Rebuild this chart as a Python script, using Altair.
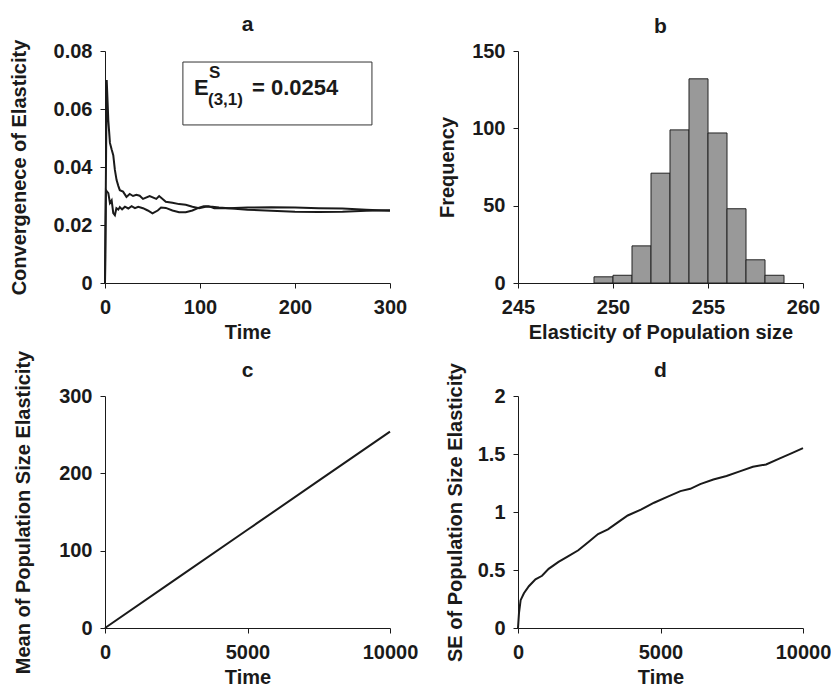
import altair as alt
import pandas as pd

FONT = "Liberation Sans"
INK = "#1a1a1a"

# ---------------- Panel a: convergence of elasticity ----------------
a1_t = [0, 1.8, 3.5, 5.2, 7, 8.7, 10.4, 12.2, 14, 15.6, 19, 22.6, 26, 29.5, 33, 36.5,
        40, 47, 54, 57, 64, 71, 78, 85, 92, 99, 106, 113, 120, 130, 150, 175, 200,
        225, 250, 275, 300]
a1_v = [0, 0.0700, 0.0560, 0.0483, 0.0460, 0.0441, 0.0390, 0.0355, 0.0335, 0.0320,
        0.0315, 0.0297, 0.0307, 0.0300, 0.0304, 0.0301, 0.0290, 0.0300, 0.0290,
        0.0300, 0.0280, 0.0277, 0.0272, 0.0270, 0.0263, 0.0258, 0.0263, 0.0263,
        0.0260, 0.0258, 0.0260, 0.0261, 0.0260, 0.0258, 0.0257, 0.0253, 0.0249]
a2_t = [0, 1, 3.5, 5.2, 7, 8.7, 10.4, 12, 14, 15.6, 18, 21, 24.5, 28, 31.5, 35, 40,
        45, 50, 55.5, 59, 64, 71, 78, 85, 92, 99, 104, 109, 115, 130, 150, 175, 200,
        225, 250, 275, 300]
a2_v = [0, 0.0320, 0.0310, 0.0276, 0.0285, 0.0241, 0.0234, 0.0258, 0.0253, 0.0262,
        0.0254, 0.0263, 0.0257, 0.0265, 0.0258, 0.0263, 0.0258, 0.0250, 0.0240,
        0.0250, 0.0260, 0.0259, 0.0250, 0.0244, 0.0244, 0.0250, 0.0260, 0.0265,
        0.0265, 0.0258, 0.0258, 0.0253, 0.0249, 0.0246, 0.0245, 0.0246, 0.0249,
        0.0251]

# annotation box (data coordinates of panel a)
box_t = [82]
box_t2 = [281]
box_v = [0.0545]
box_v2 = [0.0762]

# annotation text pieces
lbl_txt = ["E", "S", "(3,1)", "= 0.0254"]
lbl_t = [93.7, 109.5, 108.4, 154.7]
lbl_v = [0.0648, 0.0707, 0.0614, 0.0648]
lbl_size = [22, 17, 17, 22]

# ---------------- Panel b: histogram ----------------
b_lo = [249, 250, 251, 252, 253, 254, 255, 256, 257, 258]
b_hi = [250, 251, 252, 253, 254, 255, 256, 257, 258, 259]
b_freq = [4, 5, 24, 71, 99, 132, 97, 48, 15, 5]

# ---------------- Panel c: mean ----------------
c_t = [0, 2500, 5000, 7500, 10000]
c_v = [0, 63.5, 127, 190.5, 254]

# ---------------- Panel d: SE ----------------
d_t = [0, 35, 92, 208, 381, 613, 844, 1075, 1422, 1769, 2116, 2462, 2809, 3156,
       3503, 3850, 4312, 4774, 5237, 5699, 6046, 6393, 6855, 7317, 7780, 8242,
       8705, 9167, 9629, 10000]
d_v = [0, 0.13, 0.24, 0.30, 0.36, 0.42, 0.45, 0.51, 0.57, 0.62, 0.67, 0.74, 0.81,
       0.85, 0.91, 0.97, 1.02, 1.08, 1.13, 1.18, 1.20, 1.24, 1.28, 1.31, 1.35,
       1.39, 1.41, 1.46, 1.51, 1.55]

W, H = 285, 232


def x_axis(title, values, fmt):
    return alt.Axis(title=title, values=values, format=fmt)


def y_axis(title, values, fmt, pad):
    return alt.Axis(title=title, values=values, format=fmt, titlePadding=pad)


# ---- a ----
df_a = pd.concat([
    pd.DataFrame({"t": a1_t, "v": a1_v, "s": "run1"}),
    pd.DataFrame({"t": a2_t, "v": a2_v, "s": "run2"}),
])
sx_a = alt.Scale(domain=[0, 300], nice=False)
sy_a = alt.Scale(domain=[0, 0.08], nice=False)
xa = alt.X("t:Q", scale=sx_a, axis=x_axis("Time", [0, 100, 200, 300], "d"))
ya = alt.Y("v:Q", scale=sy_a,
           axis=y_axis("Convergenece of Elasticity", [0, 0.02, 0.04, 0.06, 0.08], "~g", 24))
lines_a = alt.Chart(df_a).mark_line(color=INK, strokeWidth=2).encode(
    x=xa, y=ya, detail="s:N")

df_box = pd.DataFrame({"t": box_t, "t2": box_t2, "v": box_v, "v2": box_v2})
box = alt.Chart(df_box).mark_rect(fill="white", stroke="#333333", strokeWidth=1).encode(
    x=alt.X("t:Q", scale=sx_a), x2="t2:Q",
    y=alt.Y("v:Q", scale=sy_a), y2="v2:Q")

df_lbl = pd.DataFrame({"t": lbl_t, "v": lbl_v, "txt": lbl_txt, "sz": lbl_size})
labels = alt.Chart(df_lbl).mark_text(
    align="left", baseline="alphabetic", font=FONT, fontWeight="bold", color=INK
).encode(
    x=alt.X("t:Q", scale=sx_a),
    y=alt.Y("v:Q", scale=sy_a),
    text="txt:N",
    size=alt.Size("sz:Q", scale=None, legend=None),
)
panel_a = alt.layer(lines_a, box, labels).properties(width=W, height=H, title="a")

# ---- b ----
df_b = pd.DataFrame({"lo": b_lo, "hi": b_hi, "f": b_freq})
panel_b = alt.Chart(df_b).mark_rect(fill="#999999", stroke="#222222", strokeWidth=1).encode(
    x=alt.X("lo:Q", scale=alt.Scale(domain=[245, 260], nice=False),
            axis=x_axis("Elasticity of Population size", [245, 250, 255, 260], "d")),
    x2="hi:Q",
    y=alt.Y("f:Q", scale=alt.Scale(domain=[0, 150], nice=False),
            axis=y_axis("Frequency", [0, 50, 100, 150], "d", 14)),
    y2=alt.datum(0),
).properties(width=W, height=H, title="b")

# ---- c ----
df_c = pd.DataFrame({"t": c_t, "v": c_v})
panel_c = alt.Chart(df_c).mark_line(color=INK, strokeWidth=2).encode(
    x=alt.X("t:Q", scale=alt.Scale(domain=[0, 10000], nice=False),
            axis=x_axis("Time", [0, 5000, 10000], "d")),
    y=alt.Y("v:Q", scale=alt.Scale(domain=[0, 300], nice=False),
            axis=y_axis("Mean of Population Size Elasticity", [0, 100, 200, 300], "d", 25)),
).properties(width=W, height=H, title=alt.TitleParams("c", dy=35))

# ---- d ----
df_d = pd.DataFrame({"t": d_t, "v": d_v})
panel_d = alt.Chart(df_d).mark_line(color=INK, strokeWidth=2).encode(
    x=alt.X("t:Q", scale=alt.Scale(domain=[0, 10000], nice=False),
            axis=x_axis("Time", [0, 5000, 10000], "d")),
    y=alt.Y("v:Q", scale=alt.Scale(domain=[0, 2], nice=False),
            axis=y_axis("SE of Population Size Elasticity", [0, 0.5, 1, 1.5, 2], "~g", 12)),
).properties(width=W, height=H, title=alt.TitleParams("d", dy=22))

chart = alt.concat(
    panel_a, panel_b, panel_c, panel_d,
    columns=2,
    spacing=alt.RowColnumber(row=113, column=128),
    bounds="flush",
).properties(
    background="white",
    padding={"left": 1, "top": 6, "right": 0, "bottom": 0},
).configure_view(
    stroke=None
).configure_title(
    font=FONT, fontSize=21, fontWeight="bold", color=INK, offset=4, anchor="middle",
).configure_axis(
    grid=False,
    domainColor=INK, domainWidth=1,
    tickColor=INK, tickSize=5, tickWidth=1,
    labelFont=FONT, labelFontSize=20, labelFontWeight="bold", labelColor=INK,
    labelPadding=8, labelFlush=False, labelOverlap=False,
    titleFont=FONT, titleFontSize=20, titleFontWeight="bold", titleColor=INK,
).configure_axisX(
    labelPadding=9, titlePadding=5,
)

chart.save("out.html", embed_options={"renderer": "svg", "actions": False})
